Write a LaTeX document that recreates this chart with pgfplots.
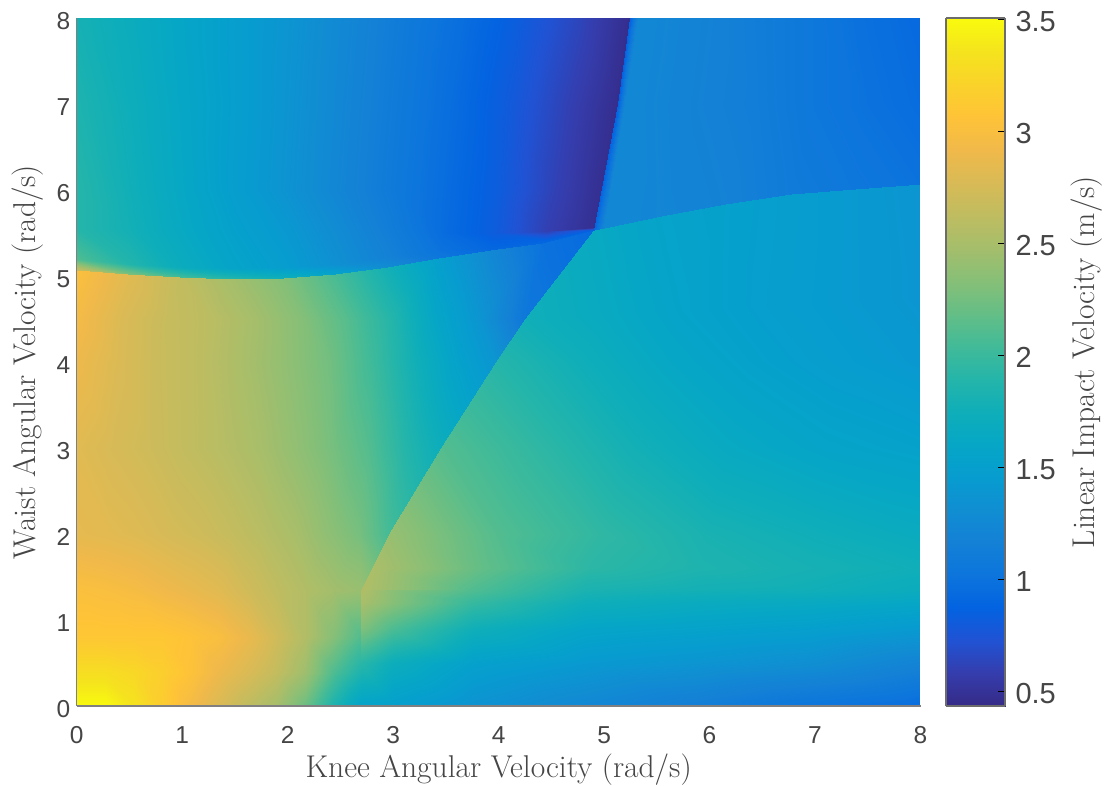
\documentclass[border=0pt]{standalone}
\usepackage{fontspec}
\usepackage{pgfplots}
\pgfplotsset{compat=1.18}
\newfontfamily\helv{Liberation Sans}
\pgfplotsset{
  colormap={parula}{
    rgb=(0.2081,0.1663,0.5292) rgb=(0.2081,0.2386,0.6771) rgb=(0.1253,0.3242,0.8303)
    rgb=(0.0117,0.3875,0.8820) rgb=(0.0498,0.4586,0.8641) rgb=(0.0779,0.5040,0.8384)
    rgb=(0.0641,0.5570,0.8240) rgb=(0.0265,0.6137,0.8135) rgb=(0.0228,0.6535,0.7768)
    rgb=(0.0590,0.6838,0.7254) rgb=(0.1453,0.7098,0.6646) rgb=(0.2586,0.7317,0.5954)
    rgb=(0.3953,0.7459,0.5244) rgb=(0.5300,0.7491,0.4661) rgb=(0.6473,0.7456,0.4188)
    rgb=(0.7525,0.7384,0.3768) rgb=(0.8507,0.7299,0.3360) rgb=(0.9450,0.7261,0.2886)
    rgb=(0.9990,0.7653,0.2164) rgb=(0.9789,0.8271,0.1633) rgb=(0.9589,0.8949,0.1132)
    rgb=(0.9763,0.9831,0.0538)
  }
}
\definecolor{axgray}{gray}{0.5}
\definecolor{txtgray}{gray}{0.27}
\begin{document}
\begin{tikzpicture}[x=1pt,y=1pt]
\useasboundingbox (0,0) rectangle (1105,785);
\begin{axis}[
  at={(76.7pt,79pt)}, anchor=south west,
  scale only axis, width=843.8pt, height=688pt,
  view={0}{90},
  xmin=0,xmax=8,ymin=0,ymax=8,
  xtick={0,...,8}, ytick={0,...,8},
  major tick length=0pt,
  axis x line*=bottom, axis y line*=left, axis z line=none,
  axis line style={axgray,line width=1.3pt},
  /pgf/number format/assume math mode=true,
  tick label style={font=\helv\fontsize{24.5}{24.5}\selectfont,text=txtgray},
  xticklabel style={yshift=-17pt},
  yticklabel style={xshift=-3pt,yshift=-3pt},
  xlabel={Knee Angular Velocity (rad/s)},
  ylabel={Waist Angular Velocity (rad/s)},
  xlabel style={yshift=-3pt},
  ylabel style={yshift=6pt},
  label style={font=\fontsize{31.5}{31.5}\selectfont,text=txtgray},
  point meta min=0.436, point meta max=3.505,
  colormap name=parula,
]
% lower left region
\addplot3[surf,shader=interp,mesh/cols=11,mesh/rows=9] table[x=x,y=y,z=v]{
x y v
0 0 3.5
0.27 0 3.5
0.54 0 3.35
0.81 0 3.15
1.08 0 2.95
1.35 0 2.78
1.62 0 2.62
1.89 0 2.48
2.16 0 2.22
2.43 0 1.85
2.7 0 1.55
0 0.4 3.3
0.27 0.4 3.3
0.54 0.4 3.25
0.81 0.4 3.17
1.08 0.4 3.05
1.35 0.4 2.9
1.62 0.4 2.78
1.89 0.4 2.65
2.16 0.4 2.45
2.43 0.4 2.1
2.7 0.4 1.85
0 0.8 3.1
0.27 0.8 3.1
0.54 0.8 3.1
0.81 0.8 3.1
1.08 0.8 3.06
1.35 0.8 3
1.62 0.8 2.88
1.89 0.8 2.72
2.16 0.8 2.55
2.43 0.8 2.33
2.7 0.8 2.1
0 1.35 3.02
0.27 1.35 3
0.54 1.35 2.97
0.81 1.35 2.92
1.08 1.35 2.87
1.35 1.35 2.82
1.62 1.35 2.72
1.89 1.35 2.63
2.16 1.35 2.55
2.43 1.35 2.47
2.7 1.35 2.42
0 2 2.85
0.296 2 2.83
0.592 2 2.8
0.888 2 2.75
1.184 2 2.71
1.48 2 2.65
1.776 2 2.58
2.072 2 2.5
2.368 2 2.38
2.664 2 2.27
2.96 2 2.05
0 3 2.82
0.345 3 2.76
0.69 3 2.71
1.035 3 2.64
1.38 3 2.58
1.725 3 2.5
2.07 3 2.39
2.415 3 2.27
2.76 3 2.12
3.105 3 1.9
3.45 3 1.72
0 4 2.9
0.398 4 2.78
0.796 4 2.68
1.194 4 2.61
1.592 4 2.5
1.99 4 2.38
2.388 4 2.25
2.786 4 2.03
3.184 4 1.78
3.582 4 1.55
3.98 4 1.38
0 4.5 2.95
0.425 4.5 2.78
0.85 4.5 2.67
1.275 4.5 2.6
1.7 4.5 2.48
2.125 4.5 2.33
2.55 4.5 2.13
2.975 4.5 1.9
3.4 4.5 1.6
3.825 4.5 1.38
4.25 4.5 1.05
0 5.07 3.02
0.49 5.02 2.82
0.98 4.99 2.64
1.47 4.97 2.48
1.96 4.98 2.32
2.45 5.02 2.07
2.94 5.11 1.78
3.43 5.21 1.5
3.92 5.3 1.25
4.41 5.38 1
4.9 5.53 0.93
};
% top left region
\addplot3[surf,shader=interp,mesh/cols=11,mesh/rows=6] table[x=x,y=y,z=v]{
x y v
0 5.07 2.7
0.49 5.02 2.3
0.98 4.99 2.05
1.47 4.97 1.9
1.96 4.98 1.75
2.45 5.02 1.55
2.94 5.11 1.3
3.43 5.21 1.05
3.92 5.3 0.92
4.41 5.38 0.92
4.9 5.53 0.9
0 5.2 2.1
0.493 5.14 1.88
0.986 5.11 1.7
1.479 5.09 1.57
1.972 5.1 1.47
2.465 5.14 1.33
2.958 5.23 1.17
3.451 5.3 1
3.944 5.34 0.9
4.437 5.42 0.88
4.91 5.54 0.88
0 5.55 1.9
0.498 5.55 1.78
0.996 5.55 1.64
1.494 5.55 1.52
1.992 5.55 1.42
2.49 5.55 1.28
2.988 5.55 1.12
3.486 5.5 0.95
3.97 5.5 0.82
4.46 5.52 0.6
4.94 5.57 0.46
0 6 1.9
0.501 6 1.76
1.002 6 1.62
1.503 6 1.48
2.004 6 1.36
2.505 6 1.22
3.006 6 1.08
3.507 6 0.95
4.008 6 0.82
4.509 6 0.62
5.01 6 0.46
0 7 1.85
0.513 7 1.73
1.026 7 1.6
1.539 7 1.48
2.052 7 1.36
2.565 7 1.22
3.078 7 1.08
3.591 7 0.95
4.104 7 0.8
4.617 7 0.62
5.13 7 0.46
0 8 1.8
0.525 8 1.7
1.05 8 1.58
1.575 8 1.47
2.1 8 1.36
2.625 8 1.22
3.15 8 1.08
3.675 8 0.96
4.2 8 0.82
4.725 8 0.65
5.25 8 0.46
};
% right middle region
\addplot3[surf,shader=interp,mesh/cols=6,mesh/rows=7] table[x=x,y=y,z=v]{
x y v
2.7 1.35 2.55
3.76 1.35 2.1
4.82 1.35 1.83
5.88 1.35 1.78
6.94 1.35 1.76
8 1.35 1.7
2.8 1.6 2.52
3.84 1.6 2.18
4.88 1.6 1.93
5.92 1.6 1.85
6.96 1.6 1.8
8 1.6 1.75
2.96 2 2.42
3.97 2 2.12
4.98 2 1.95
5.98 2 1.82
6.99 2 1.75
8 2 1.68
3.45 3 2.12
4.36 3 1.95
5.27 3 1.78
6.18 3 1.65
7.09 3 1.57
8 3 1.53
3.98 4 1.9
4.78 4 1.75
5.59 4 1.62
6.39 4 1.53
7.2 4 1.47
8 4 1.42
4.25 4.5 1.76
5 4.55 1.66
5.75 4.6 1.55
6.5 4.65 1.49
7.25 4.7 1.44
8 4.75 1.39
4.9 5.53 1.65
5.54 5.7 1.55
6.15 5.84 1.52
6.77 5.95 1.48
7.38 6.01 1.43
8 6.07 1.38
};
% top right region
\addplot3[surf,shader=interp,mesh/cols=7,mesh/rows=3] table[x=x,y=y,z=v]{
x y v
4.9 5.53 0.9
5 5.56 1.25
5.54 5.7 1.22
6.15 5.84 1.18
6.77 5.95 1.1
7.38 6.01 1.05
8 6.07 1
5.13 7 0.88
5.2 7 1.25
5.9 7 1.18
6.45 7 1.13
7 7 1.05
7.5 7 1
8 7 0.95
5.25 8 0.88
5.32 8 1.25
6 8 1.18
6.5 8 1.12
7 8 1.05
7.5 8 0.98
8 8 0.93
};
% bottom right region
\addplot3[surf,shader=interp,mesh/cols=7,mesh/rows=5] table[x=x,y=y,z=v]{
x y v
2.7 0 1.55
3 0 1.5
3.76 0 1.36
4.82 0 1.24
5.88 0 1.13
6.94 0 1.02
8 0 0.95
2.7 0.5 1.92
3 0.5 1.72
3.76 0.5 1.52
4.82 0.5 1.43
5.88 0.5 1.38
6.94 0.5 1.32
8 0.5 1.2
2.7 0.9 2.3
3 0.9 2.08
3.76 0.9 1.75
4.82 0.9 1.58
5.88 0.9 1.54
6.94 0.9 1.5
8 0.9 1.43
2.7 1.2 2.5
3 1.2 2.33
3.76 1.2 1.98
4.82 1.2 1.74
5.88 1.2 1.68
6.94 1.2 1.65
8 1.2 1.6
2.7 1.35 2.55
3 1.35 2.35
3.76 1.35 2.1
4.82 1.35 1.83
5.88 1.35 1.78
6.94 1.35 1.76
8 1.35 1.7
};
\end{axis}
\begin{axis}[
  at={(946pt,79pt)}, anchor=south west,
  scale only axis, width=59pt, height=688pt,
  view={0}{90},
  xmin=0,xmax=1,ymin=0.436,ymax=3.505,
  xtick=\empty,
  ytick={0.5,1,1.5,2,2.5,3,3.5},
  ytick pos=right, yticklabel pos=right,
  tick align=inside, major tick length=7pt,
  axis line style={axgray!85!black,line width=1.8pt},
  tick style={black,line width=1pt},
  /pgf/number format/assume math mode=true,
  /pgf/number format/fixed,
  tick label style={font=\helv\fontsize{29}{29}\selectfont,text=txtgray},
  yticklabel style={xshift=7pt,yshift=-2pt},
  ylabel={Linear Impact Velocity (m/s)},
  ylabel style={font=\fontsize{31.5}{31.5}\selectfont,text=txtgray,yshift=-8pt},
  point meta min=0.436, point meta max=3.505,
  colormap name=parula,
]
\addplot3[surf,shader=interp,mesh/cols=2,mesh/rows=2] table[x=x,y=y,z=v]{
x y v
0 0.436 0.436
1 0.436 0.436
0 3.505 3.505
1 3.505 3.505
};
\end{axis}
\end{tikzpicture}
\end{document}
